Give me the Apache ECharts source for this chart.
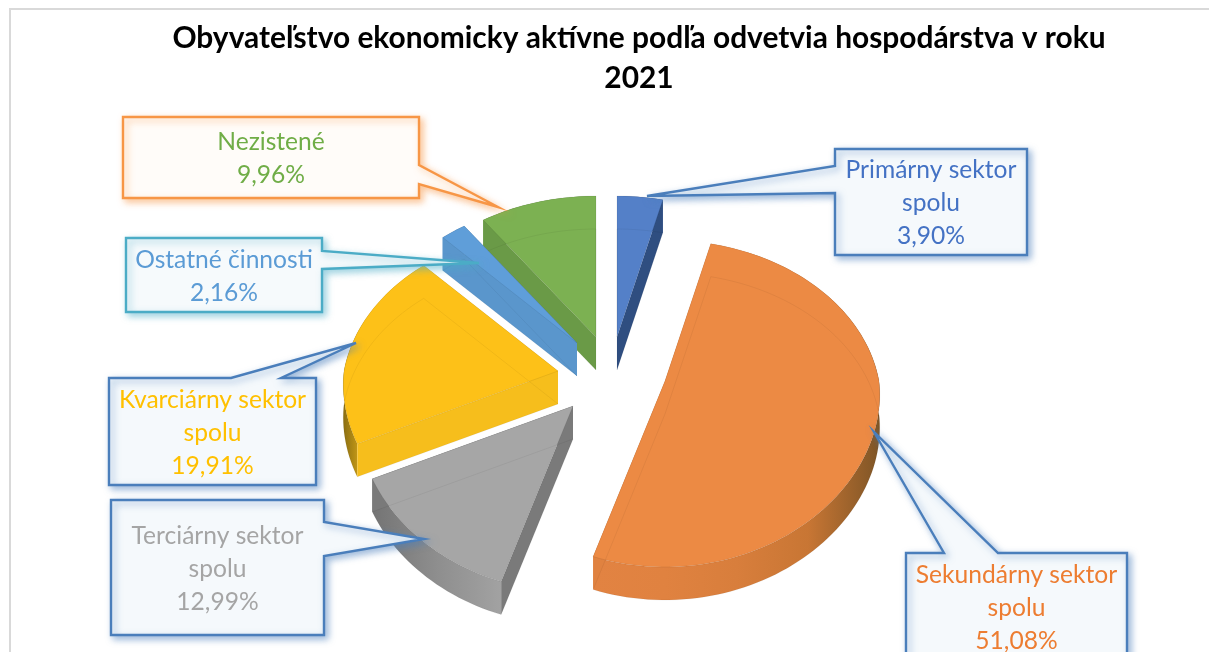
<!DOCTYPE html>
<html><head><meta charset="utf-8">
<style>html,body{margin:0;padding:0;background:#fff;overflow:hidden}#c{width:1209px;height:652px}</style>
<script src="https://cdn.jsdelivr.net/npm/echarts@6/dist/echarts.min.js"></script>
</head><body><div id="c"></div>
<script>
// ---- data ----
const chartTitle = 'Obyvateľstvo ekonomicky aktívne podľa odvetvia hospodárstva v roku\n2021';
const categories = ['Primárny sektor\nspolu','Sekundárny sektor\nspolu','Terciárny sektor\nspolu','Kvarciárny sektor\nspolu','Ostatné činnosti','Nezistené'];
const values = [3.90, 51.08, 12.99, 19.91, 2.16, 9.96];

// ---- style / layout (separate from the data) ----
const topColors  = ['#5480C8','#EC8A44','#A6A6A6','#FDC118','#5F9ED9','#7CB152'];
const textColors = ['#4472C4','#ED7D31','#A5A5A5','#FFC000','#5B9BD5','#70AD47'];
const rayWalls   = ['#2F4E80','#E08240','#7A7A7A','#F6BE1C','#5A96CC','#6A9A47'];
const arcWalls   = [
  ['#3A5F9C','#3A5F9C'],
  ['#E28342','#E08240','#D87E3C','#C87634','#7E5526'],
  ['#747474','#8E8E8E','#A2A2A2'],
  ['#8A6E12','#F0B81A','#F7BE1C','#F7BE1C'],
  ['#5A96CC','#5A96CC'],
  ['#6A9A47','#6A9A47']
];
const explodeCentres = [[617,337],[665,381],[573,406],[558,371],[577,343],[596,337]];
const drawOrder = [5,0,3,4,1,2];
const RX = 214, RY = 160.4, PERSP = 0.1376, FRONT_X = 0.6, DEPTH = 33, TEXT_DY = 1.5;

const boxes = [
  {rect:[835,149,1027,255], pointer:[[835,166],[647,196],[835,193]], side:'left', stroke:'#4A7EBB', fill:'#F5F9FC'},
  {rect:[906,553,1127,661], pointer:[[944,553],[874,432],[998,553]], side:'top', stroke:'#4A7EBB', fill:'#F5F9FC'},
  {rect:[111,500,324,635], pointer:[[324,522],[424,539],[324,556]], side:'right', stroke:'#4A7EBB', fill:'#F5F9FC'},
  {rect:[109,378,316,485], pointer:[[231,378],[356,343],[281,378]], side:'top', stroke:'#4A7EBB', fill:'#F5F9FC'},
  {rect:[126,238,322,312], pointer:[[322,251],[479,263],[322,269]], side:'right', stroke:'#4BACC6', fill:'#F6FAFC'},
  {rect:[123,117,419,198], pointer:[[419,165],[498,207],[419,184]], side:'right', stroke:'#F79646', fill:'#FFFCF9'}
];

const total = values.reduce((a,b)=>a+b,0);
const starts = []; values.reduce((acc,v,i)=>{starts[i]=acc;return acc+v;},0);
const angle = v => v/total*2*Math.PI;

function project(i, th, depth){
  const u = Math.sin(th), v = Math.cos(th), s = 1/(1+PERSP*v), c = explodeCentres[i];
  const sx = v>0 ? s : 1+(s-1)*FRONT_X;
  return [c[0]+RX*u*sx, c[1]-RY*v*s+depth];
}
function arc(i, a0, a1, depth){
  const pts=[], n=Math.max(6,Math.ceil((a1-a0)/0.03));
  for(let k=0;k<=n;k++) pts.push(project(i,a0+(a1-a0)*k/n,depth));
  return pts;
}
function gradient(stops){
  return {type:'linear',x:0,y:0,x2:1,y2:0,colorStops:stops.map((c,k)=>({offset:k/(stops.length-1),color:c}))};
}
function renderSlice(params, api){
  const i = api.value(0), a0 = angle(starts[i]), a1 = angle(starts[i]+values[i]);
  const c = explodeCentres[i], top = arc(i,a0,a1,0), bot = arc(i,a0,a1,DEPTH);
  const apexB = [c[0],c[1]+DEPTH];
  const p0=top[0], p1=top[top.length-1], b0=bot[0], b1=bot[bot.length-1];
  return {type:'group',children:[
    {type:'polygon',shape:{points:top.concat(bot.slice().reverse())},style:{fill:gradient(arcWalls[i])},silent:true},
    {type:'polygon',shape:{points:[c,p0,b0,apexB]},style:{fill:rayWalls[i]},silent:true},
    {type:'polygon',shape:{points:[c,p1,b1,apexB]},style:{fill:rayWalls[i]},silent:true},
    {type:'polygon',shape:{points:[c].concat(top)},style:{fill:topColors[i],stroke:'rgba(0,0,0,0.10)',lineWidth:0.7},silent:true},
    {type:'polyline',shape:{points:[apexB].concat(bot,[apexB])},style:{fill:null,stroke:'rgba(0,0,0,0.05)',lineWidth:1},silent:true}
  ]};
}
function renderBox(params, api){
  const i = api.value(0), b = boxes[i], r = b.rect, p = b.pointer;
  let pts;
  if(b.side==='left')  pts=[[r[0],r[1]],[r[2],r[1]],[r[2],r[3]],[r[0],r[3]],[r[0],p[2][1]],p[1],[r[0],p[0][1]]];
  if(b.side==='right') pts=[[r[0],r[1]],[r[2],r[1]],[r[2],p[0][1]],p[1],[r[2],p[2][1]],[r[2],r[3]],[r[0],r[3]]];
  if(b.side==='top')   pts=[[r[0],r[1]],[p[0][0],r[1]],p[1],[p[2][0],r[1]],[r[2],r[1]],[r[2],r[3]],[r[0],r[3]]];
  const label = categories[i]+'\n'+values[i].toFixed(2).replace('.',',')+'%';
  return {type:'group',children:[
    {type:'polygon',shape:{points:pts},silent:true,
     style:{fill:b.fill,stroke:b.stroke,lineWidth:2.4,lineJoin:'miter',shadowBlur:7,shadowOffsetX:3,shadowOffsetY:3,shadowColor:b.stroke+'88'}},
    {type:'text',silent:true,style:{text:label,x:(r[0]+r[2])/2,y:(r[1]+r[3])/2+TEXT_DY,align:'center',verticalAlign:'middle',
      fontFamily:'Lato',fontSize:24.6,lineHeight:33,fill:textColors[i]}}
  ]};
}

const chart = echarts.init(document.getElementById('c'),null,{renderer:'canvas'});
chart.setOption({
  animation:false,
  backgroundColor:'#fff',
  title:{text:chartTitle,left:634,top:13,textAlign:'center',
    textStyle:{fontFamily:'Lato',fontWeight:'bold',fontSize:29.9,lineHeight:40,color:'#000'}},
  graphic:[{type:'rect',silent:true,z:-1,shape:{x:10,y:9,width:1300,height:800},style:{fill:'#fff',stroke:'#D9D9D9',lineWidth:2}}],
  series:[
    {type:'custom',coordinateSystem:'none',z:2,silent:true,renderItem:renderSlice,data:drawOrder.map(i=>[i])},
    {type:'custom',coordinateSystem:'none',z:3,silent:true,renderItem:renderBox,data:categories.map((_,i)=>[i])}
  ]
});
</script></body></html>
